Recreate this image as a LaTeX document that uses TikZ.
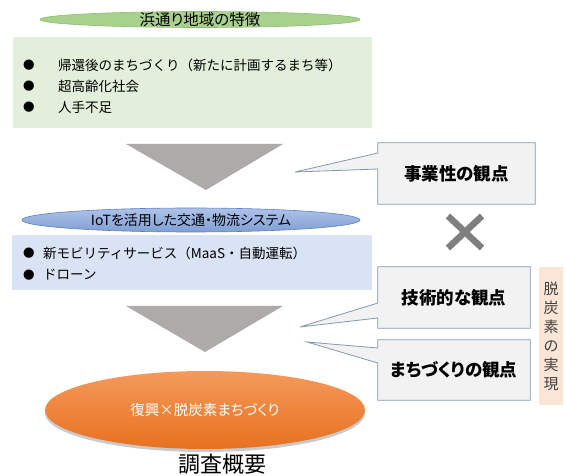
\documentclass[tikz,border=0pt]{standalone}
\usepackage{fontspec}
\setmainfont{Noto Sans CJK JP}[RawFeature=+palt]
\newfontfamily\jpfull{Noto Sans CJK JP}
\usetikzlibrary{shapes.geometric,shadows,backgrounds}
\definecolor{gellfill}{HTML}{A9D18E}
\definecolor{gelldraw}{HTML}{8CBF6C}
\definecolor{gboxfill}{HTML}{E2EFDA}
\definecolor{bellfillA}{HTML}{AFC3E8}
\definecolor{bellfillB}{HTML}{7F9FD6}
\definecolor{belldraw}{HTML}{5B7FC4}
\definecolor{bboxfill}{HTML}{DAE3F3}
\definecolor{trifill}{HTML}{AEAAAA}
\definecolor{callfill}{HTML}{F2F2F2}
\definecolor{calldraw}{HTML}{8497B0}
\definecolor{peachfill}{HTML}{FBE5D6}
\definecolor{peachtext}{HTML}{404040}
\definecolor{orA}{HTML}{F39A5C}
\definecolor{orB}{HTML}{E8711F}
\definecolor{crossgray}{HTML}{7F7F7F}
\begin{document}
\begin{tikzpicture}[x=1pt,y=-1pt,
  gell/.style={ellipse, minimum width=320pt, minimum height=16pt, inner sep=0pt, fill=gellfill, draw=gelldraw, line width=0.6pt},
  bell/.style={ellipse, minimum width=338pt, minimum height=24pt, inner sep=0pt, top color=bellfillA, bottom color=bellfillB, draw=belldraw, line width=0.6pt},
  oell/.style={ellipse, minimum width=320pt, minimum height=78pt, inner sep=0pt, top color=orA, bottom color=orB, draw=none,
    drop shadow={opacity=0.35, shadow xshift=0pt, shadow yshift=-3pt, fill=black!60}},
  etext/.style={inner sep=0pt, text=black},
  gbox/.style={rectangle, minimum width=359pt, minimum height=91pt, inner sep=0pt, fill=gboxfill},
  bbox/.style={rectangle, minimum width=360pt, minimum height=55pt, inner sep=0pt, fill=bboxfill},
  bul/.style={inner sep=0pt, font=\fontsize{11.5}{12}\selectfont},
  itemtext/.style={inner sep=0pt, anchor=west, font=\jpfull\fontsize{13.5}{16}\selectfont},
  tri/.style={fill=trifill},
  callbox/.style={rectangle, inner sep=0pt, font=\bfseries\fontsize{17.5}{20}\selectfont},
  callshape/.style={fill=callfill, draw=calldraw, line width=0.8pt, line join=miter},
  peach/.style={rectangle, minimum width=24pt, minimum height=138pt, inner sep=0pt, fill=peachfill, text=peachtext, align=center, font=\fontsize{15}{19}\selectfont},
  crossline/.style={draw=crossgray, line width=6.5pt}
]
\useasboundingbox (0,0) rectangle (566,476);

% top section
\node[gell] (gell) at (200,19.5) {};
\node[etext, font=\fontsize{15.5}{18}\selectfont] (gellt) at (gell.center) {浜通り地域の特徴};
\node[gbox] (gbox) at (192.5,82.5) {};
\node[bul] (gb1) at (29,65) {●};
\node[bul] (gb2) at (29,86) {●};
\node[bul] (gb3) at (29,107) {●};
\node[itemtext] (g1) at (58,65) {帰還後のまちづくり（新たに計画するまち等）};
\node[itemtext] (g2) at (58,86) {超高齢化社会};
\node[itemtext] (g3) at (58,107) {人手不足};

\fill[tri] (126,144) -- (283,144) -- (206,190) -- cycle;

% middle section
\node[bell] (bell) at (191,220) {};
\node[etext, font=\fontsize{14}{16}\selectfont] (bellt) at (bell.center) {IoTを活用した交通・物流システム};
\node[bbox] (bbox) at (192,262.5) {};
\node[bul] (bb1) at (29,253) {●};
\node[bul] (bb2) at (29,275) {●};
\node[itemtext] (b1) at (43,253) {新モビリティサービス（MaaS・自動運転）};
\node[itemtext] (b2) at (43,275) {ドローン};

\fill[tri] (126,306) -- (283,306) -- (205,352) -- cycle;

% bottom
\node[oell] (oell) at (205,410) {};
\node[etext, text=white, font=\fontsize{14.5}{17}\selectfont] (oellt) at (oell.center) {復興×脱炭素まちづくり};
\node[etext, font=\fontsize{22}{26}\selectfont] (title) at (222,464) {調査概要};

% callouts
\node[callbox, minimum width=157pt, minimum height=61pt] (c1) at (456.5,173.5) {事業性の観点};
\node[callbox, minimum width=152pt, minimum height=61pt] (c2) at (454,297.5) {技術的な観点};
\node[callbox, minimum width=152pt, minimum height=60pt] (c3) at (454,370) {まちづくりの観点};
\coordinate (t1) at (295,172);
\coordinate (t2) at (300,327);
\coordinate (t3) at (307,342);
\begin{scope}[on background layer]
\filldraw[callshape] (c1.north west) -- (c1.north east) -- (c1.south east) -- (c1.south west)
  -- (c1.west |- 0,169) -- (t1) -- (c1.west |- 0,153) -- cycle;
\filldraw[callshape] (c2.north west) -- (c2.north east) -- (c2.south east) -- (c2.south west)
  -- (c2.west |- 0,318) -- (t2) -- (c2.west |- 0,303) -- cycle;
\filldraw[callshape] (c3.north west) -- (c3.north east) -- (c3.south east) -- (c3.south west)
  -- (c3.west |- 0,363) -- (t3) -- (c3.west |- 0,348) -- cycle;
\end{scope}

% cross
\coordinate (xa) at (448,216);
\coordinate (xb) at (482,248);
\coordinate (xc) at (448,248);
\coordinate (xd) at (482,216);
\draw[crossline] (xa) -- (xb);
\draw[crossline] (xc) -- (xd);

% side box
\node[peach] (side) at (551,336) {脱\\炭\\素\\の\\実\\現};
\end{tikzpicture}
\end{document}
